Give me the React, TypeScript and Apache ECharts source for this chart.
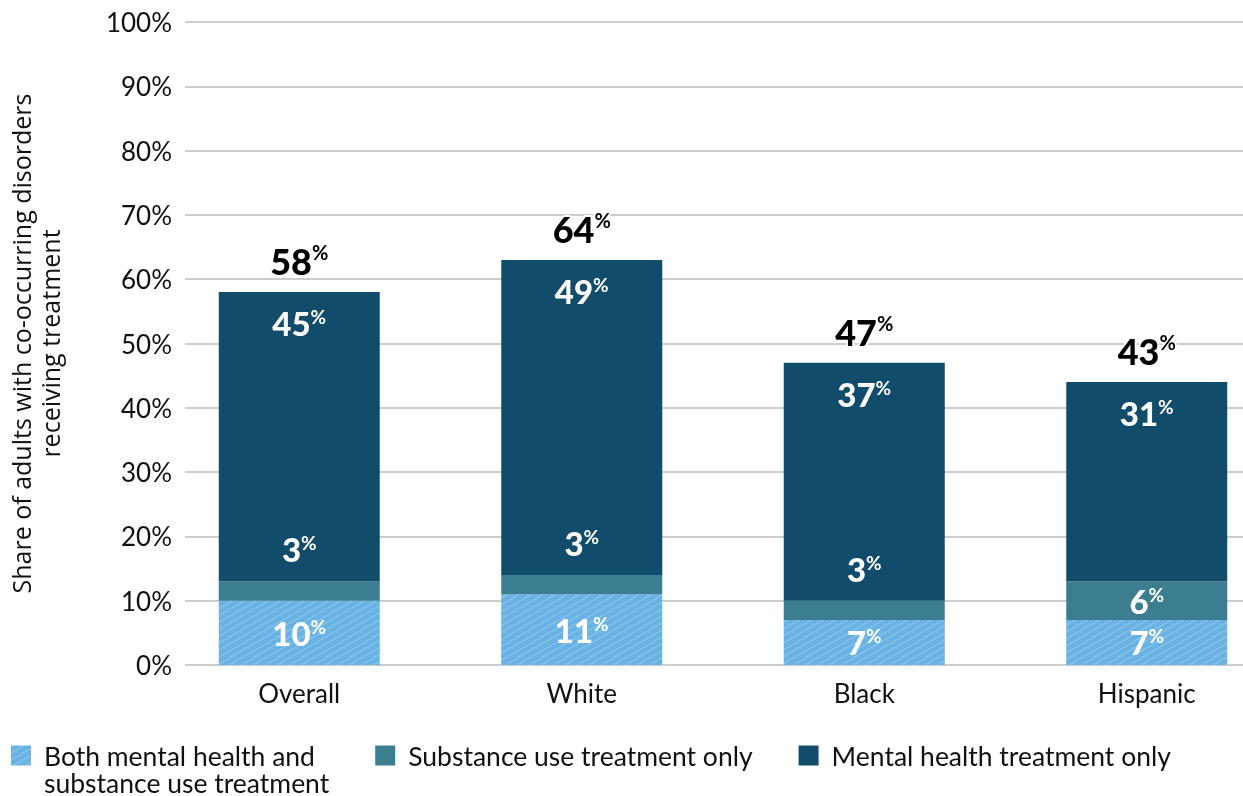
import React, { useEffect, useRef } from "react";
import * as echarts from "echarts";

const categories = ["Overall", "White", "Black", "Hispanic"];
const bothValues = [10, 11, 7, 7];
const substanceValues = [3, 3, 3, 6];
const mentalValues = [45, 49, 37, 31];
const totalLabels = [58, 64, 47, 43];
const seriesNames = [
  "Both mental health and\nsubstance use treatment",
  "Substance use treatment only",
  "Mental health treatment only",
];
const yTicks = { min: 0, max: 100, interval: 10 };

const C_BOTH = "#68b2e4";
const C_SUB = "#3b7e8f";
const C_MENT = "#124c6b";

const FONT = "Lato";

function pctRich(color: string, big: number, small: number, lh: number, border?: boolean) {
  const extra = border ? { textBorderColor: "#fff", textBorderWidth: 4 } : {};
  return {
    n: { fontFamily: FONT, fontSize: big, fontWeight: 900, color, lineHeight: lh, ...extra },
    p: { fontFamily: FONT, fontSize: small, fontWeight: 700, color, lineHeight: small, verticalAlign: "top", ...extra },
  };
}

export default function App() {
  const ref = useRef<HTMLDivElement>(null);
  useEffect(() => {
    if (!ref.current) return;
    const chart = echarts.init(ref.current, undefined, { renderer: "svg" });
    const segFmt = (p: any) => `{n|${p.value}}{p|%}`;
    chart.setOption({
      animation: false,
      textStyle: { fontFamily: FONT },
      grid: [
        { left: 185, right: 57, top: 22, bottom: 131, outerBoundsMode: "none", containLabel: false },
        { left: 158, width: 1130, top: 22, bottom: 131, outerBoundsMode: "none", containLabel: false },
      ],
      xAxis: [
        { type: "category", gridIndex: 0, data: categories, show: false },
        {
          type: "category",
          gridIndex: 1,
          data: categories,
          axisLine: { show: false },
          axisTick: { show: false },
          axisLabel: { fontFamily: FONT, fontSize: 26, color: "#111", margin: 15 },
        },
      ],
      yAxis: [
        {
          type: "value",
          gridIndex: 0,
          min: yTicks.min,
          max: yTicks.max,
          interval: yTicks.interval,
          axisLine: { show: false },
          axisTick: { show: false },
          axisLabel: { formatter: "{value}%", fontFamily: FONT, fontSize: 26, color: "#111", margin: 13 },
          splitLine: { lineStyle: { color: "#bdbdbd", width: 1.5 } },
          name: "Share of adults with co-occurring disorders\nreceiving treatment",
          nameLocation: "middle",
          nameGap: 121,
          nameTextStyle: { fontFamily: "Open Sans", fontSize: 25, color: "#111", lineHeight: 29 },
        },
        {
          type: "value",
          gridIndex: 1,
          min: yTicks.min,
          max: yTicks.max,
          interval: yTicks.interval,
          show: false,
          splitLine: { show: false },
        },
      ],
      legend: {
        left: 11,
        top: 715,
        padding: 0,
        itemWidth: 20,
        itemHeight: 20,
        itemGap: 46,
        icon: "rect",
        formatter: (name: string) => (name.indexOf("\n") >= 0 ? " \n" + name : name),
        textStyle: { fontFamily: FONT, fontSize: 26.5, color: "#111", lineHeight: 27, padding: [0, 0, 0, 8] },
        data: seriesNames,
      },
      series: [
        {
          name: seriesNames[0],
          type: "bar",
          stack: "t",
          xAxisIndex: 1,
          yAxisIndex: 1,
          barWidth: 161,
          data: bothValues,
          itemStyle: {
            color: C_BOTH,
            decal: {
              symbol: "rect",
              symbolSize: 1,
              dashArrayX: [[1, 0]],
              dashArrayY: [1, 5],
              rotation: -Math.PI / 6,
              color: "rgba(255,255,255,0.28)",
            },
          },
          label: { show: true, position: "inside", formatter: segFmt, rich: pctRich("#fff", 33, 19, 32) },
        },
        {
          name: seriesNames[1],
          type: "bar",
          stack: "t",
          xAxisIndex: 1,
          yAxisIndex: 1,
          data: substanceValues.map((v) => ({
            value: v,
            label: { position: v >= 5 ? "inside" : "top" },
          })),
          itemStyle: { color: C_SUB },
          label: { show: true, distance: 16, formatter: segFmt, rich: pctRich("#fff", 33, 19, 32) },
        },
        {
          name: seriesNames[2],
          type: "bar",
          stack: "t",
          xAxisIndex: 1,
          yAxisIndex: 1,
          data: mentalValues,
          itemStyle: { color: C_MENT },
          label: { show: true, position: "insideTop", distance: 15, formatter: segFmt, rich: pctRich("#fff", 33, 19, 32) },
        },
        {
          name: "total",
          type: "bar",
          stack: "t",
          xAxisIndex: 1,
          yAxisIndex: 1,
          data: totalLabels.map(() => 0),
          itemStyle: { color: "transparent" },
          label: {
            show: true,
            position: "top",
            distance: 12,
            formatter: (p: any) => `{n|${totalLabels[p.dataIndex]}}{p|%}`,
            rich: pctRich("#000", 36, 20, 38, true),
          },
        },
      ],
    });
    return () => chart.dispose();
  }, []);
  return (
    <div style={{ position: "fixed", left: 0, top: 0, width: 1243, height: 796, overflow: "hidden" }}>
      <div ref={ref} style={{ width: 1300, height: 796 }} />
    </div>
  );
}
